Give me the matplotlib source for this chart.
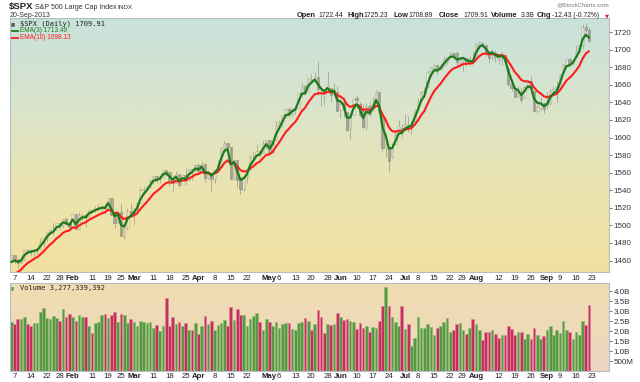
import numpy as np
import pandas as pd
import matplotlib
matplotlib.use('Agg')
import matplotlib.pyplot as plt
from matplotlib.colors import LinearSegmentedColormap
from matplotlib.lines import Line2D

plt.rcParams['font.family'] = ['Liberation Sans', 'DejaVu Sans']

# closes before the chart window, only used to seed the moving averages
warmup_closes = [1416.18, 1409.46, 1407.05, 1409.28, 1413.94, 1418.07, 1418.55, 1427.84,
                 1428.48, 1419.45, 1413.58, 1430.36, 1446.79, 1435.81, 1443.69, 1430.15,
                 1426.66, 1419.83, 1418.10, 1402.43, 1426.19, 1462.42, 1459.37]

holidays = ['2013-01-21', '2013-02-18', '2013-03-29', '2013-05-27', '2013-07-04', '2013-09-02']

opens = [1459.37, 1466.47, 1461.89, 1457.15, 1461.02, 1472.12, 1472.05, 1470.67, 1472.33, 1472.63,
         1480.95, 1485.98, 1492.56, 1494.81, 1494.82, 1502.96, 1500.18, 1507.84, 1501.96, 1498.11,
         1513.17, 1495.71, 1511.29, 1512.12, 1509.39, 1517.93, 1517.01, 1519.43, 1520.33, 1521.38,
         1519.79, 1530.94, 1511.95, 1502.42, 1515.60, 1487.85, 1496.94, 1515.99, 1514.68, 1518.20,
         1525.20, 1539.79, 1541.46, 1544.26, 1551.15, 1556.22, 1552.48, 1554.52, 1563.21, 1560.70,
         1552.10, 1548.34, 1558.71, 1545.90, 1556.89, 1551.69, 1563.75, 1562.86, 1569.18, 1562.17,
         1570.25, 1553.69, 1559.98, 1553.26, 1563.11, 1568.61, 1587.73, 1593.30, 1588.84, 1552.36,
         1574.57, 1552.03, 1541.61, 1555.25, 1562.50, 1578.78, 1578.78, 1585.16, 1582.34, 1593.58,
         1597.55, 1582.77, 1597.60, 1614.40, 1617.55, 1625.95, 1632.69, 1626.69, 1632.10, 1633.75,
         1649.13, 1658.07, 1652.45, 1665.71, 1666.20, 1669.39, 1651.62, 1646.67, 1652.63, 1656.57,
         1649.14, 1652.13, 1631.71, 1640.73, 1629.05, 1609.29, 1625.27, 1644.67, 1638.64, 1629.94,
         1612.15, 1635.52, 1630.64, 1639.77, 1651.83, 1624.62, 1588.62, 1588.77, 1577.52, 1592.27,
         1606.44, 1611.12, 1609.78, 1614.29, 1611.48, 1618.65, 1634.20, 1642.89, 1652.29, 1657.41,
         1675.26, 1679.59, 1682.70, 1677.91, 1681.05, 1686.15, 1694.41, 1695.68, 1696.06, 1685.21,
         1687.31, 1690.32, 1687.92, 1687.76, 1689.42, 1706.10, 1708.01, 1705.79, 1695.30, 1693.35,
         1696.10, 1688.37, 1690.65, 1693.88, 1679.61, 1661.22, 1655.25, 1646.81, 1650.66, 1645.03,
         1659.92, 1664.29, 1652.54, 1630.25, 1633.50, 1638.89, 1635.95, 1638.72, 1653.28, 1657.44,
         1656.85, 1675.11, 1681.04, 1689.21, 1685.04, 1691.70, 1697.73, 1705.74, 1725.44, 1722.44]
highs = [1467.94, 1466.47, 1461.89, 1464.73, 1472.30, 1472.75, 1472.05, 1473.31, 1473.96, 1485.16,
         1485.98, 1492.56, 1496.13, 1502.27, 1503.26, 1503.23, 1507.84, 1509.94, 1504.19, 1514.41,
         1513.17, 1514.76, 1512.53, 1512.90, 1518.31, 1518.31, 1522.29, 1524.69, 1523.14, 1524.24,
         1530.94, 1530.94, 1511.95, 1515.64, 1525.84, 1498.99, 1520.08, 1525.34, 1519.99, 1525.27,
         1543.47, 1545.25, 1545.78, 1552.48, 1556.27, 1556.77, 1556.39, 1563.32, 1563.62, 1560.70,
         1557.25, 1561.56, 1558.71, 1557.74, 1564.91, 1563.95, 1564.07, 1570.28, 1570.57, 1573.66,
         1571.47, 1562.60, 1559.98, 1563.07, 1573.89, 1589.07, 1597.35, 1593.30, 1588.84, 1575.35,
         1574.57, 1554.38, 1555.89, 1565.55, 1579.58, 1583.00, 1592.64, 1585.78, 1596.65, 1597.57,
         1597.55, 1598.60, 1618.46, 1619.77, 1626.03, 1632.78, 1635.01, 1633.70, 1636.00, 1651.10,
         1661.49, 1660.51, 1667.47, 1672.84, 1674.93, 1687.18, 1655.50, 1649.78, 1674.21, 1656.57,
         1661.91, 1658.99, 1640.42, 1646.53, 1629.31, 1622.56, 1644.40, 1648.69, 1640.13, 1637.71,
         1639.25, 1640.80, 1646.50, 1654.19, 1652.45, 1624.62, 1599.19, 1588.77, 1593.79, 1606.83,
         1620.07, 1615.94, 1626.61, 1624.26, 1618.97, 1632.07, 1644.68, 1652.52, 1656.94, 1676.63,
         1680.19, 1684.51, 1683.73, 1684.75, 1693.12, 1692.09, 1697.61, 1695.75, 1698.38, 1690.94,
         1691.85, 1690.92, 1693.19, 1698.43, 1707.85, 1709.67, 1709.24, 1705.79, 1695.30, 1700.18,
         1699.42, 1691.49, 1696.81, 1695.52, 1679.61, 1663.60, 1659.18, 1658.92, 1656.99, 1659.55,
         1664.85, 1669.51, 1652.54, 1641.18, 1646.41, 1640.08, 1651.35, 1655.72, 1659.17, 1664.83,
         1672.40, 1684.09, 1689.13, 1689.97, 1688.73, 1704.95, 1705.52, 1729.44, 1729.86, 1725.23]
lows = [1458.99, 1456.62, 1451.64, 1457.15, 1461.02, 1467.58, 1465.69, 1463.76, 1467.60, 1472.63,
        1475.81, 1481.16, 1489.90, 1489.46, 1494.82, 1496.33, 1496.55, 1500.11, 1496.76, 1498.11,
        1495.02, 1495.71, 1504.71, 1498.49, 1509.39, 1513.61, 1515.61, 1515.93, 1514.02, 1514.14,
        1519.79, 1511.41, 1497.29, 1502.42, 1487.85, 1485.01, 1494.88, 1514.46, 1501.48, 1512.29,
        1525.20, 1538.11, 1541.46, 1542.94, 1547.36, 1548.24, 1548.25, 1554.52, 1555.74, 1545.13,
        1538.57, 1548.34, 1543.55, 1545.90, 1546.22, 1551.69, 1551.90, 1561.08, 1558.47, 1562.17,
        1549.80, 1552.52, 1539.50, 1548.63, 1560.92, 1568.61, 1586.17, 1579.97, 1552.28, 1552.36,
        1543.69, 1536.03, 1539.40, 1548.19, 1562.50, 1575.80, 1578.78, 1577.56, 1582.34, 1586.50,
        1581.28, 1582.77, 1597.60, 1614.21, 1611.80, 1622.70, 1623.09, 1623.71, 1626.74, 1633.75,
        1646.68, 1648.60, 1652.45, 1663.52, 1662.67, 1648.86, 1635.53, 1636.88, 1652.63, 1640.05,
        1648.61, 1630.74, 1622.72, 1623.62, 1607.09, 1598.23, 1625.27, 1639.26, 1622.92, 1610.92,
        1608.07, 1623.96, 1630.34, 1639.77, 1628.91, 1584.32, 1577.70, 1560.33, 1577.09, 1592.27,
        1606.44, 1601.06, 1609.78, 1606.77, 1604.57, 1614.71, 1634.20, 1642.89, 1646.83, 1657.41,
        1672.33, 1677.89, 1671.84, 1677.91, 1681.05, 1684.08, 1690.67, 1691.58, 1682.57, 1680.07,
        1676.03, 1681.86, 1682.42, 1684.94, 1689.42, 1700.68, 1703.55, 1693.29, 1684.91, 1688.38,
        1686.02, 1683.35, 1682.62, 1684.83, 1658.59, 1652.61, 1645.84, 1646.08, 1639.43, 1645.03,
        1654.81, 1656.02, 1629.05, 1627.47, 1630.88, 1627.47, 1633.41, 1637.41, 1653.07, 1640.62,
        1656.85, 1675.11, 1678.70, 1681.96, 1682.22, 1691.70, 1697.73, 1700.35, 1720.20, 1708.89]
closes = [1466.47, 1461.89, 1457.15, 1461.02, 1472.12, 1472.05, 1470.68, 1472.34, 1472.63, 1480.94,
          1485.98, 1492.56, 1494.81, 1494.82, 1502.96, 1500.18, 1507.84, 1501.96, 1498.11, 1513.17,
          1495.71, 1511.29, 1512.12, 1509.39, 1517.93, 1517.01, 1519.43, 1520.33, 1521.38, 1519.79,
          1530.94, 1511.95, 1502.42, 1515.60, 1487.85, 1496.94, 1515.99, 1514.68, 1518.20, 1525.20,
          1539.79, 1541.46, 1544.26, 1551.18, 1556.22, 1552.48, 1554.52, 1563.23, 1560.70, 1552.10,
          1548.34, 1558.71, 1545.80, 1556.89, 1551.69, 1563.77, 1562.85, 1569.19, 1562.17, 1570.25,
          1553.69, 1559.98, 1553.28, 1563.07, 1568.61, 1587.73, 1593.37, 1588.85, 1552.36, 1574.57,
          1552.01, 1541.61, 1555.25, 1562.50, 1578.78, 1578.79, 1585.16, 1582.24, 1593.61, 1597.57,
          1582.70, 1597.59, 1614.42, 1617.50, 1625.96, 1632.69, 1626.67, 1633.70, 1633.77, 1650.34,
          1658.78, 1650.47, 1667.47, 1666.29, 1669.16, 1655.35, 1650.51, 1649.60, 1660.06, 1648.36,
          1654.41, 1630.74, 1640.42, 1631.38, 1608.90, 1622.56, 1643.38, 1642.81, 1626.13, 1612.52,
          1636.36, 1626.73, 1639.04, 1651.81, 1628.93, 1588.19, 1592.43, 1573.09, 1588.03, 1603.26,
          1613.20, 1606.28, 1614.96, 1614.08, 1615.41, 1631.89, 1640.46, 1652.32, 1652.62, 1675.02,
          1680.19, 1682.50, 1676.26, 1680.91, 1689.37, 1692.09, 1695.53, 1692.39, 1685.94, 1690.25,
          1691.65, 1685.33, 1685.96, 1685.73, 1706.87, 1709.67, 1707.14, 1697.37, 1690.91, 1697.48,
          1691.42, 1689.47, 1694.16, 1685.39, 1661.32, 1655.83, 1646.06, 1652.35, 1642.80, 1656.96,
          1663.50, 1656.78, 1630.48, 1634.96, 1638.17, 1632.97, 1639.77, 1653.08, 1655.08, 1655.17,
          1671.71, 1683.99, 1689.13, 1683.42, 1687.99, 1697.60, 1704.76, 1725.52, 1722.34, 1709.91]
# volume in billions of shares
volumes = [2.43, 2.34, 2.58, 2.58, 2.68, 2.34, 2.24, 2.38, 2.41, 2.96, 3.13, 2.63, 2.58, 2.74, 2.63,
           2.51, 3.08, 2.69, 2.84, 2.71, 2.51, 2.81, 2.68, 2.71, 2.24, 1.92, 2.41, 2.43, 2.79, 2.84,
           2.63, 2.79, 2.94, 2.43, 2.84, 2.79, 2.41, 2.58, 2.46, 2.24, 2.49, 2.46, 2.38, 2.43, 2.17,
           2.29, 1.99, 2.26, 3.63, 2.24, 2.68, 2.34, 2.43, 2.24, 2.39, 2.07, 2.04, 2.39, 1.87, 2.24,
           2.74, 2.33, 2.51, 2.04, 2.29, 2.41, 2.54, 2.24, 3.18, 2.54, 3.08, 2.79, 2.81, 2.24, 2.61,
           2.74, 2.89, 2.43, 2.07, 2.61, 2.43, 2.24, 2.43, 2.17, 2.33, 2.38, 2.38, 2.12, 2.04, 2.41,
           2.43, 2.63, 2.49, 2.07, 2.33, 3.05, 2.68, 1.91, 2.33, 2.29, 2.33, 2.88, 2.68, 2.54, 2.58,
           2.51, 2.44, 2.12, 2.41, 2.16, 2.26, 1.96, 2.21, 2.17, 2.49, 3.25, 4.19, 3.25, 2.68, 2.43,
           2.26, 3.25, 2.12, 2.33, 1.24, 1.64, 2.68, 2.14, 2.14, 2.36, 2.19, 1.81, 2.14, 2.24, 2.46,
           2.66, 1.96, 2.07, 2.34, 2.38, 2.04, 1.87, 2.16, 2.58, 2.34, 2.06, 1.57, 1.96, 1.96, 2.04,
           1.87, 1.67, 1.82, 1.82, 2.24, 2.12, 1.79, 1.96, 1.96, 1.62, 1.87, 1.59, 2.17, 1.82, 1.62,
           1.77, 2.07, 2.27, 1.82, 2.06, 1.91, 2.48, 2.07, 1.97, 1.62, 1.93, 1.79, 2.48, 2.28, 3.277]

tick_dates = ['2013-01-07', '2013-01-14', '2013-01-22', '2013-01-28', '2013-02-01', '2013-02-11',
              '2013-02-19', '2013-02-25', '2013-03-01', '2013-03-11', '2013-03-18', '2013-03-25',
              '2013-04-01', '2013-04-08', '2013-04-15', '2013-04-22', '2013-05-01', '2013-05-06',
              '2013-05-13', '2013-05-20', '2013-05-28', '2013-06-03', '2013-06-10', '2013-06-17',
              '2013-06-24', '2013-07-01', '2013-07-08', '2013-07-15', '2013-07-22', '2013-07-29',
              '2013-08-01', '2013-08-12', '2013-08-19', '2013-08-26', '2013-09-03', '2013-09-09',
              '2013-09-16', '2013-09-23']
tick_labels = ['7', '14', '22', '28', 'Feb', '11', '19', '25', 'Mar', '11', '18', '25',
               'Apr', '8', '15', '22', 'May', '6', '13', '20', '28', 'Jun', '10', '17',
               '24', 'Jul', '8', '15', '22', '29', 'Aug', '12', '19', '26', 'Sep', '9',
               '16', '23']

price_ticks = list(range(1460, 1721, 20))
vol_ticks = [0.5, 1.0, 1.5, 2.0, 2.5, 3.0, 3.5, 4.0]
vol_tick_labels = ['500M', '1.0B', '1.5B', '2.0B', '2.5B', '3.0B', '3.5B', '4.0B']

# trading calendar (chart leaves room for a few future sessions on the right)
days = pd.bdate_range('2013-01-04', '2013-09-30')
days = days[~days.isin(pd.to_datetime(holidays))]
tick_pos = [days.get_loc(pd.Timestamp(d)) for d in tick_dates]

o = np.array(opens)
h = np.array(highs)
l = np.array(lows)
c = np.array(closes)
v = np.array(volumes)
x = np.arange(len(c))

full = pd.Series(warmup_closes + closes)
ema3 = full.ewm(span=3, adjust=False).mean().values[len(warmup_closes):]
ema10 = full.ewm(span=10, adjust=False).mean().values[len(warmup_closes):]

W, H = 640, 382
fig = plt.figure(figsize=(W / 100, H / 100), dpi=100)
fig.patch.set_facecolor('white')


def px(xp, yp):
    return xp / W, 1 - yp / H


def gradient(axis, colors):
    cmap = LinearSegmentedColormap.from_list('bg', colors)
    grad = np.linspace(0, 1, 256).reshape(-1, 1)
    axis.imshow(grad, extent=[0, 1, 0, 1], transform=axis.transAxes, origin='lower',
                cmap=cmap, aspect='auto', zorder=0, interpolation='bicubic')


def dash(xp0, xp1, yp, color):
    fig.add_artist(Line2D([xp0 / W, xp1 / W], [1 - yp / H, 1 - yp / H],
                          transform=fig.transFigure, color=color, lw=1.3))


ax = fig.add_axes([10 / W, 1 - 272 / H, 599 / W, 254 / H])
axv = fig.add_axes([10 / W, 1 - 371 / H, 599 / W, 88 / H])

gradient(ax, ['#f1e1a0', '#ebe4b0', '#d9e4cc', '#c8e2dc'])
gradient(axv, ['#ecd5c4', '#efdab8', '#f0ddb2'])

# candles
up = c >= o
body_lo = np.minimum(o, c)
body_h = np.maximum(np.abs(c - o), 0.4)
ax.vlines(x, l, h, color='#8c8c7c', lw=0.6, alpha=0.7, zorder=2)
ax.bar(x[up], body_h[up], bottom=body_lo[up], width=0.72, facecolor='#f4f1dc',
       edgecolor='#9a9a88', lw=0.5, alpha=0.55, zorder=2)
ax.bar(x[~up], body_h[~up], bottom=body_lo[~up], width=0.72, facecolor='#9d9d8a',
       edgecolor='#85857a', lw=0.5, alpha=0.75, zorder=2)

ax.plot(x, ema10, color='#ff1c1c', lw=1.5, zorder=3, solid_capstyle='round')
ax.plot(x, ema3, color='#1c7a1c', lw=1.6, zorder=4, solid_capstyle='round')

xlim = (-0.4, 185.2)
ax.set_xlim(xlim)
ax.set_ylim(1447, 1736)
ax.yaxis.tick_right()
ax.set_yticks(price_ticks)
ax.set_yticklabels([str(t) for t in price_ticks])

# volume, coloured by close against the previous close
prev = np.r_[warmup_closes[-1], c[:-1]]
vol_up = c >= prev
face = np.where(vol_up, '#5a9646', '#c2305c')
edge = np.where(vol_up, '#8cc070', '#e2849c')
axv.bar(x, v, width=0.82, color=face, edgecolor=edge, lw=0.5, zorder=2)
axv.set_xlim(xlim)
axv.set_ylim(0, 4.4)
axv.yaxis.tick_right()
axv.set_yticks(vol_ticks)
axv.set_yticklabels(vol_tick_labels)

for a, pad in ((ax, 2.0), (axv, 1.5)):
    a.set_xticks(tick_pos)
    a.set_xticklabels(tick_labels)
    for t in a.get_xticklabels():
        t.set_fontweight('bold' if t.get_text().isalpha() else 'normal')
        if t.get_text() == '29':
            t.set_horizontalalignment('right')
            t.set_x(t.get_position()[0] + 1.0)
    a.tick_params(axis='x', length=0, pad=pad, labelsize=5.6, colors='#222222')
    a.tick_params(axis='y', length=2, pad=1.5, labelsize=5.8, colors='#333333', width=0.5)
    for s in a.spines.values():
        s.set_color('#b4bcc4')
        s.set_linewidth(0.8)

# header
fig.text(*px(9, 7), '$SPX', fontsize=6.8, fontweight='bold', va='center', color='#222222')
fig.text(*px(35, 7.5), 'S&P 500 Large Cap Index', fontsize=5.0, va='center', color='#333333')
fig.text(*px(117, 7.5), 'INDX', fontsize=4.6, va='center', color='#333333')
fig.text(*px(10, 15.5), '20-Sep-2013', fontsize=5.0, va='center', color='#333333')
fig.text(*px(609, 5), '@StockCharts.com', fontsize=4.4, va='center', ha='right', color='#777777')

header_parts = [(297, 'Open', True), (318, '1722.44', False), (347, 'High', True),
                (363, '1725.23', False), (393, 'Low', True), (408, '1708.89', False),
                (439, 'Close', True), (463, '1709.91', False), (491, 'Volume', True),
                (521, '3.3B', False), (537, 'Chg', True), (552, '-12.43 (-0.72%)', False)]
for xp, txt, bold in header_parts:
    fig.text(*px(xp, 15.5), txt, fontsize=5.4 if bold else 4.9,
             fontweight='bold' if bold else 'normal', va='center', color='#222222')
fig.text(*px(605, 15.5), '▼', fontsize=3.8, va='center', color='#c02050',
         family='DejaVu Sans')

# legends
fig.text(*px(11, 24), '▮▮', fontsize=3.3, va='center', color='#555555', family='DejaVu Sans')
fig.text(*px(20, 24), f'$SPX (Daily) {c[-1]:.2f}', fontsize=5.0, va='center',
         color='#222222', family='DejaVu Sans Mono')
dash(12, 18, 30.5, '#1c7a1c')
fig.text(*px(19.5, 30.5), f'EMA(3) {ema3[-1]:.2f}', fontsize=4.7, va='center', color='#1c7a1c')
dash(12, 18, 37.5, '#ff1c1c')
fig.text(*px(19.5, 37.5), f'EMA(10) {ema10[-1]:.2f}', fontsize=4.7, va='center', color='#ff1c1c')

fig.text(*px(11, 288), '▮', fontsize=3.8, va='center', color='#4a8a3a', family='DejaVu Sans')
fig.text(*px(20, 288), 'Volume 3,277,339,392', fontsize=5.0, va='center',
         color='#222222', family='DejaVu Sans Mono')

fig.savefig('out.png', dpi=100, facecolor='white')
